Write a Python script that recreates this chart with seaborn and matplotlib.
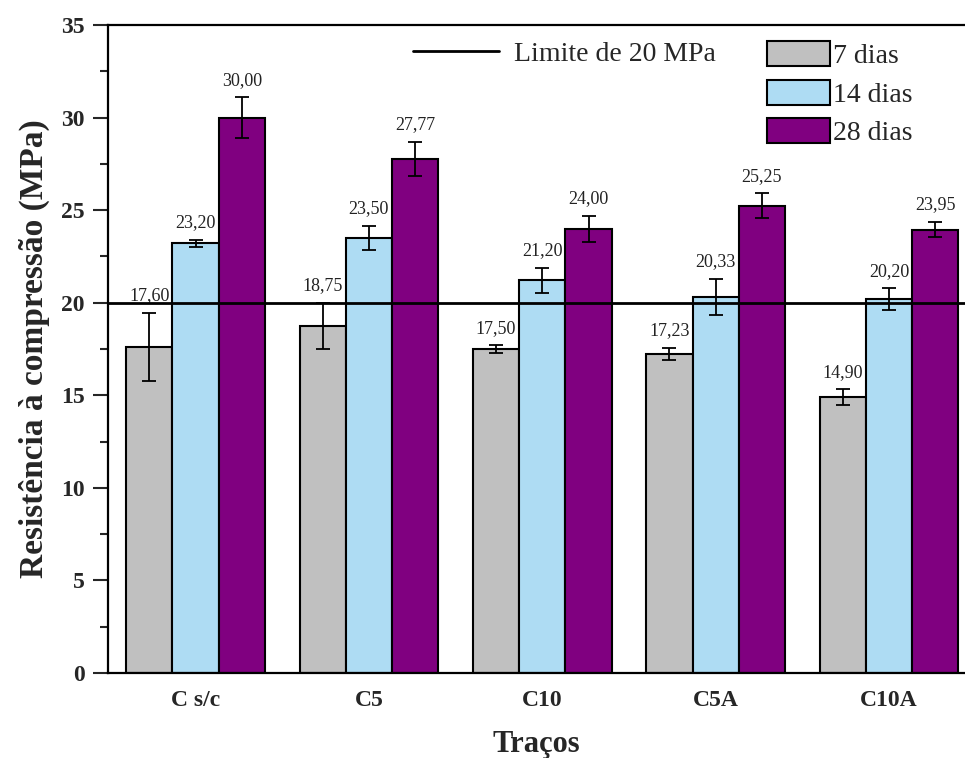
import numpy as np
import pandas as pd
import seaborn as sns
import matplotlib.pyplot as plt
from matplotlib.ticker import MultipleLocator

# dados
tracos = ['C s/c', 'C5', 'C10', 'C5A', 'C10A']
idades = ['7 dias', '14 dias', '28 dias']
res_7 = [17.60, 18.75, 17.50, 17.23, 14.90]
res_14 = [23.20, 23.50, 21.20, 20.33, 20.20]
res_28 = [30.00, 27.77, 24.00, 25.25, 23.95]
err_7 = [1.85, 1.25, 0.20, 0.33, 0.42]
err_14 = [0.20, 0.65, 0.68, 0.97, 0.58]
err_28 = [1.10, 0.93, 0.70, 0.65, 0.42]
limite = 20
cores = ['#c0c0c0', '#aedcf3', '#800080']

df = pd.DataFrame({
    'Traço': tracos * 3,
    'Idade': [i for i in idades for _ in tracos],
    'Resistência': res_7 + res_14 + res_28,
})
erros = [err_7, err_14, err_28]
valores = [res_7, res_14, res_28]

sns.set_style('ticks')
plt.rcParams['font.family'] = ['Liberation Serif', 'DejaVu Serif']

fig = plt.figure(figsize=(9.65, 7.58), dpi=100)
ax = fig.add_axes([108 / 965, 85 / 758, 857 / 965, 648 / 758])

sns.barplot(data=df, x='Traço', y='Resistência', hue='Idade', order=tracos,
            hue_order=idades, palette=cores, edgecolor='black', linewidth=1.5,
            width=0.8, errorbar=None, saturation=1, ax=ax)

for cont, err, vals in zip(ax.containers, erros, valores):
    xs = [b.get_x() + b.get_width() / 2 for b in cont]
    ax.errorbar(xs, vals, yerr=err, fmt='none', ecolor='black', elinewidth=1.3,
                capsize=4.7, capthick=1.3, zorder=5)
    for x, v, e in zip(xs, vals, err):
        ax.annotate(f'{v:.2f}'.replace('.', ','), (x, v + e), xytext=(0, 9),
                    textcoords='offset points', ha='center', va='baseline',
                    fontsize=13, color='#222222')

linha = ax.axhline(limite, color='black', lw=2, zorder=4)

ax.set_xlim(-0.505, 4.438)
ax.set_ylim(0, 35)
ax.yaxis.set_major_locator(MultipleLocator(5))
ax.yaxis.set_minor_locator(MultipleLocator(2.5))
ax.tick_params(axis='y', which='major', length=11, width=1.5, pad=6,
               labelsize=17, direction='out')
ax.tick_params(axis='y', which='minor', length=6, width=1.5, direction='out')
ax.tick_params(axis='x', length=0, pad=12, labelsize=17)
for lab in ax.get_xticklabels() + ax.get_yticklabels():
    lab.set_fontweight('bold')

for s in ['left', 'bottom', 'top']:
    ax.spines[s].set_linewidth(1.6)
    ax.spines[s].set_color('black')
ax.spines['right'].set_visible(False)

ax.set_xlabel('Traços', fontsize=22, fontweight='bold', labelpad=14)
ax.set_ylabel('Resistência à compressão (MPa)', fontsize=24, fontweight='bold',
              labelpad=8)

handles, labels = ax.get_legend_handles_labels()
leg2 = ax.legend(handles[:3], idades, loc='upper left',
                 bbox_to_anchor=(0.769, 0.975), frameon=False, fontsize=20,
                 handlelength=2.27, handleheight=1.0, handletextpad=0.1,
                 labelspacing=0.38, borderpad=0, borderaxespad=0)
ax.add_artist(leg2)
ax.legend([linha], ['Limite de 20 MPa'], loc='upper left',
          bbox_to_anchor=(0.356, 0.975), frameon=False, fontsize=20,
          handlelength=3.1, handletextpad=0.55, borderpad=0, borderaxespad=0)

fig.savefig('out.png', dpi=100)
